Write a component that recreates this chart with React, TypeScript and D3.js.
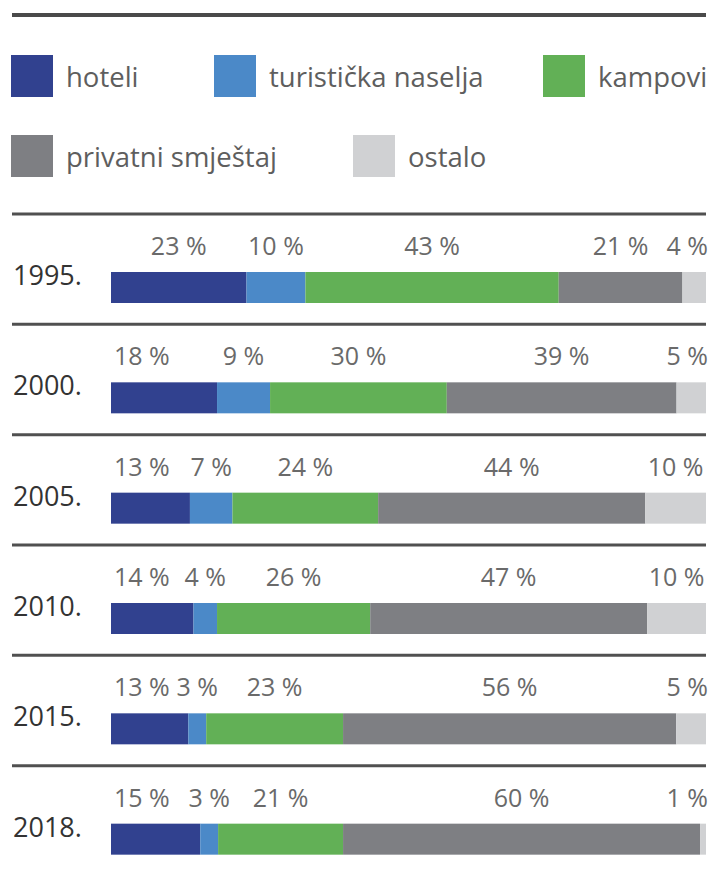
import React, { useMemo } from "react";
import * as d3 from "d3";

const years = ["1995.", "2000.", "2005.", "2010.", "2015.", "2018."];
const categories = ["hoteli", "turistička naselja", "kampovi", "privatni smještaj", "ostalo"];
const colors = ["#31418f", "#4b89c8", "#62b056", "#7e7f83", "#d0d1d3"];
const hoteli = [23, 18, 13, 14, 13, 15];
const naselja = [10, 9, 7, 4, 3, 3];
const kampovi = [43, 30, 24, 26, 23, 21];
const privatni = [21, 39, 44, 47, 56, 60];
const ostalo = [4, 5, 10, 10, 5, 1];

const series = [hoteli, naselja, kampovi, privatni, ostalo];

const W = 710;
const H = 871;
const FONT = "'Open Sans', sans-serif";
const barX0 = 111;
const barX1 = 706;
const labelRight = 708;
const LABEL_SIZE = 25;

function measure(text: string, size: number): number {
  if (typeof document === "undefined") return text.length * size * 0.55;
  const c = document.createElement("canvas");
  const ctx = c.getContext("2d");
  if (!ctx) return text.length * size * 0.55;
  ctx.font = `${size}px ${FONT}`;
  return ctx.measureText(text).width;
}

export default function App() {
  const rowY = d3.scaleLinear().domain([0, 6]).range([214, 876]);

  const rows = useMemo(() => {
    return years.map((yr, i) => {
      const vals = series.map((s) => s[i]);
      const total = d3.sum(vals);
      const x = d3.scaleLinear().domain([0, total]).range([barX0, barX1]);
      let acc = 0;
      const segs = vals.map((v, k) => {
        const a = acc;
        acc += v;
        return { k, v, x0: x(a), x1: x(acc) };
      });
      const labels = segs.map((s, k) => {
        const text = `${s.v} %`;
        const w = measure(text, LABEL_SIZE);
        const c = (s.x0 + s.x1) / 2;
        let anchor: "start" | "middle" | "end" = "middle";
        let lx = c;
        if (k === 0 && s.x1 - s.x0 < 120) {
          anchor = "start";
          lx = barX0 + 3;
        } else if (c + w / 2 > labelRight) {
          anchor = "end";
          lx = labelRight;
        }
        return { text, lx, anchor };
      });
      return { yr, segs, labels };
    });
  }, []);

  const legendItems = [
    { k: 0, x: 11, y: 55 },
    { k: 1, x: 214, y: 55 },
    { k: 2, x: 543, y: 55 },
    { k: 3, x: 11, y: 135 },
    { k: 4, x: 353, y: 135 },
  ];

  return (
    <svg
      width={W}
      height={H}
      style={{ position: "absolute", left: 0, top: 0, background: "#fff" }}
      fontFamily={FONT}
    >
      <line x1={12} x2={706} y1={15} y2={15} stroke="#4a4a4a" strokeWidth={4} />
      {legendItems.map((it) => (
        <g key={it.k}>
          <rect x={it.x} y={it.y} width={42} height={42} fill={colors[it.k]} />
          <text x={it.x + 55} y={it.y + 32} fontSize={27.5} fill="#5e5e5e">
            {categories[it.k]}
          </text>
        </g>
      ))}
      {rows.map((r, i) => {
        const top = rowY(i);
        return (
          <g key={r.yr}>
            <line x1={12} x2={706} y1={top} y2={top} stroke="#505050" strokeWidth={3} />
            <text x={13} y={top + 71} fontSize={27} fill="#333">
              {r.yr}
            </text>
            {r.segs.map((s) => (
              <rect
                key={s.k}
                x={s.x0}
                y={top + 58}
                width={Math.max(0, s.x1 - s.x0)}
                height={31}
                fill={colors[s.k]}
              />
            ))}
            {r.labels.map((l, k) => (
              <text
                key={k}
                x={l.lx}
                y={top + 41}
                fontSize={LABEL_SIZE}
                fill="#6a6a6a"
                textAnchor={l.anchor}
              >
                {l.text}
              </text>
            ))}
          </g>
        );
      })}
    </svg>
  );
}
